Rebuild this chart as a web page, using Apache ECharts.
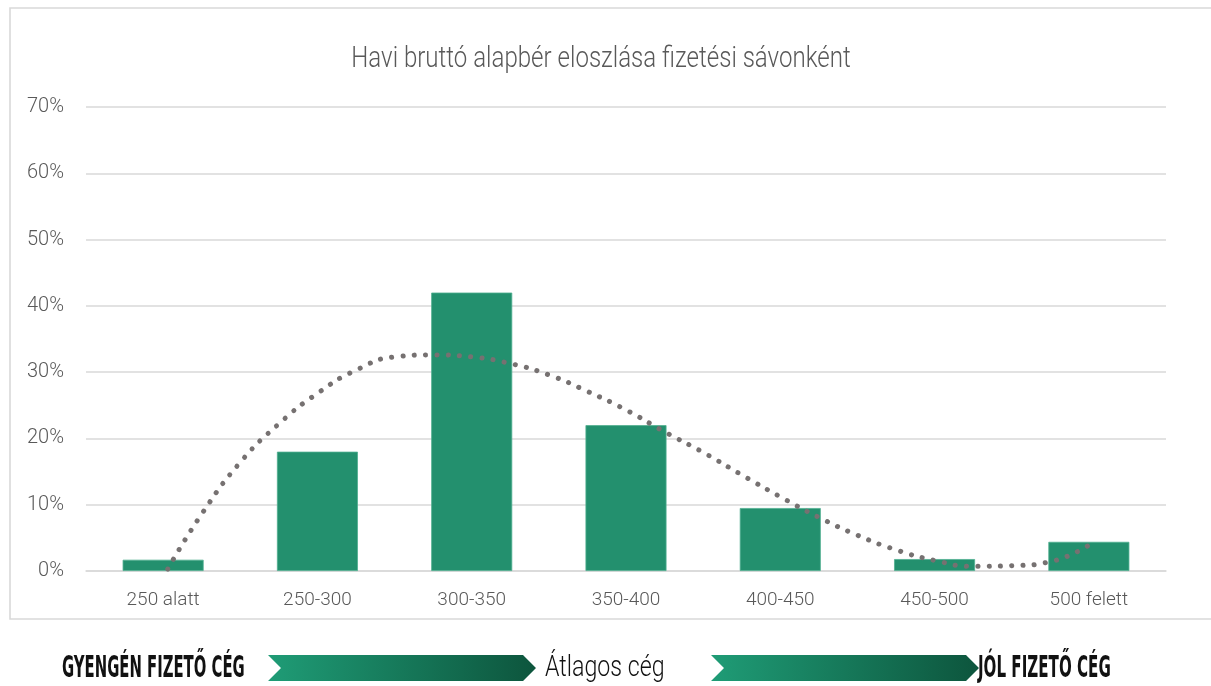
<!DOCTYPE html>
<html>
<head>
<meta charset="utf-8">
<script src="https://cdn.jsdelivr.net/npm/echarts@6/dist/echarts.min.js"></script>
<style>
  html, body { margin: 0; padding: 0; background: #fff; }
  #chart { width: 1211px; height: 686px; }
</style>
</head>
<body>
<div id="chart"></div>
<script>
// salary bands (ezer Ft)
const categories = ['250 alatt', '250-300', '300-350', '350-400', '400-450', '450-500', '500 felett'];
// share of companies per band, %
const shares = [1.7, 18, 42, 22, 9.5, 1.8, 4.4];
// polynomial trendline (x = category position, 1..7)
const trendX = [1.03, 1.25, 1.5, 1.75, 2, 2.25, 2.5, 2.75, 3, 3.25, 3.5, 3.75, 4, 4.25, 4.5, 4.75, 5, 5.25, 5.5, 5.75, 6, 6.25, 6.5, 6.75, 7];
const trendY = [0.3, 8.6, 16.4, 22.2, 26.8, 30.3, 32.3, 32.6, 32.3, 31.3, 29.6, 27.1, 24.3, 21.0, 17.9, 14.5, 11.2, 8.1, 5.4, 3.2, 1.6, 0.7, 0.8, 1.4, 3.9];
const yTicks = [0, 10, 20, 30, 40, 50, 60, 70];

const thin = 'Roboto, "Liberation Sans", sans-serif';
const boldCond = '"DejaVu Sans Condensed", "DejaVu Sans", sans-serif';
const green = '#23906e';

let myChart = echarts.init(document.getElementById('chart'), null, { renderer: 'canvas' });

const arrowGrad = new echarts.graphic.LinearGradient(0, 0, 1, 0, [
    { offset: 0, color: '#1f9c76' },
    { offset: 1, color: '#0d553d' }
]);

// chevron-shaped band, left x, width w
function chevron(x, w) {
    return {
        type: 'polygon',
        shape: { points: [[x, 655], [x + w - 13, 655], [x + w, 668], [x + w - 13, 681], [x, 681], [x + 13, 668]] },
        style: { fill: arrowGrad }
    };
}

function label(text, x, y, font, sx, color, align) {
    return {
        type: 'text',
        x: x, y: y,
        scaleX: sx,
        style: {
            text: text, font: font, fill: color,
            align: align, verticalAlign: 'middle',
            textAlign: align, textVerticalAlign: 'middle'
        }
    };
}

let option = {
    backgroundColor: '#fff',
    animation: false,
    grid: { left: 86, right: 45, top: 107, bottom: 115 },
    xAxis: [{
        type: 'category',
        data: categories,
        axisTick: { show: false },
        axisLine: { lineStyle: { color: '#d9d9d9', width: 1.5 } },
        axisLabel: { fontFamily: thin, fontWeight: 300, fontSize: 19, color: '#595959', margin: 20 }
    }, {
        type: 'value',
        min: 0.5,
        max: 7.5,
        show: false
    }],
    yAxis: {
        type: 'value',
        min: yTicks[0],
        max: yTicks[yTicks.length - 1],
        interval: 10,
        axisLine: { show: false },
        axisTick: { show: false },
        splitLine: { lineStyle: { color: '#d9d9d9', width: 1.5 } },
        axisLabel: { formatter: '{value}%', fontFamily: thin, fontWeight: 300, fontSize: 20, color: '#595959', margin: 22 }
    },
    series: [{
        type: 'bar',
        data: shares,
        barWidth: '52.5%',
        itemStyle: { color: green, borderColor: '#4fae8f', borderWidth: 0.8 },
        z: 2
    }, {
        type: 'line',
        xAxisIndex: 1,
        data: trendX.map((x, i) => [x, trendY[i]]),
        smooth: true,
        showSymbol: false,
        clip: true,
        lineStyle: { color: '#767171', width: 5, type: [0.1, 11.2], cap: 'round' },
        z: 3
    }],
    graphic: [
        {
            type: 'rect',
            shape: { x: 10, y: 8, width: 1400, height: 611 },
            style: { fill: null, stroke: '#d9d9d9', lineWidth: 1.6 },
            silent: true
        },
        label('Havi bruttó alapbér eloszlása fizetési sávonként', 601, 60, '300 29px ' + thin, 0.83, '#595959', 'center'),
        chevron(268, 268),
        chevron(711, 268),
        label('GYENGÉN FIZETŐ CÉG', 62, 669, 'bold 30px ' + boldCond, 0.55, '#111', 'left'),
        label('Átlagos cég', 545, 669, '300 29px ' + thin, 0.8, '#111', 'left'),
        label('JÓL FIZETŐ CÉG', 978, 669, 'bold 30px ' + boldCond, 0.56, '#111', 'left')
    ]
};

myChart.setOption(option);
</script>
</body>
</html>
